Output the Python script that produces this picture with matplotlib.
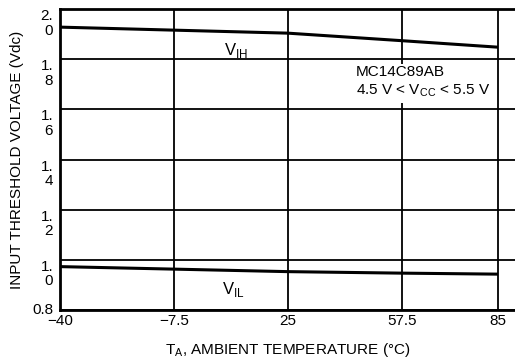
import matplotlib
matplotlib.use('Agg')
import matplotlib.pyplot as plt

# temperature points (deg C)
temps = [-40, -7.5, 25, 57.5, 85]
# input threshold voltages
vih = [1.928, 1.916, 1.904, 1.874, 1.848]
vil = [0.973, 0.963, 0.953, 0.947, 0.943]

xticks = [-40, -7.5, 25, 57.5, 85]
xtick_labels = ['\u221240', '\u22127.5', '25', '57.5', '85']
yticks = [2.0, 1.8, 1.6, 1.4, 1.2, 1.0, 0.8]
ytick_labels = ['2.\n0', '1.\n8', '1.\n6', '1.\n4', '1.\n2', '1.\n0', '0.8']

plt.rcParams['font.family'] = ['Liberation Sans', 'DejaVu Sans']

fig = plt.figure(figsize=(5.15, 3.63), dpi=100)
ax = fig.add_axes([0.1165, 0.146, 0.8835, 0.829])

ax.plot(temps, vih, color='black', lw=2.2, solid_capstyle='butt', zorder=3)
ax.plot(temps, vil, color='black', lw=2.2, solid_capstyle='butt', zorder=3)

ax.set_xlim(-40, 89.85)
ax.set_ylim(0.8, 2.0)

ax.set_xticks(xticks)
ax.set_xticklabels(xtick_labels, fontsize=11)
ax.set_yticks(yticks)
ax.set_yticklabels(ytick_labels, fontsize=11, ha='right',
                   multialignment='right', linespacing=1.05)
for lab in ax.get_yticklabels():
    lab.set_va('center' if lab.get_text() == '0.8' else 'top')
ax.tick_params(length=0, pad=3)
ax.tick_params(axis='y', pad=5)

ax.grid(True, color='black', lw=1.3)
for s in ['left', 'bottom', 'top']:
    ax.spines[s].set_linewidth(2)
ax.spines['right'].set_visible(False)

ax.text(10.3, 1.836, r'V$_{\mathregular{IH}}$', fontsize=12, ha='center', va='center')
ax.text(9.4, 0.88, r'V$_{\mathregular{IL}}$', fontsize=12, ha='center', va='center')
ax.text(44.5, 1.775, 'MC14C89AB\n4.5 V < V$_{\\mathregular{CC}}$ < 5.5 V', fontsize=11,
        ha='left', va='top', linespacing=1.25,
        bbox=dict(facecolor='white', edgecolor='none', pad=2.5))

ax.set_ylabel('INPUT THRESHOLD VOLTAGE (Vdc)', fontsize=11, labelpad=6)
ax.set_xlabel('T$_{\\mathregular{A}}$, AMBIENT TEMPERATURE (\u00b0C)', fontsize=11, labelpad=9)

fig.savefig('out.png', dpi=100)
